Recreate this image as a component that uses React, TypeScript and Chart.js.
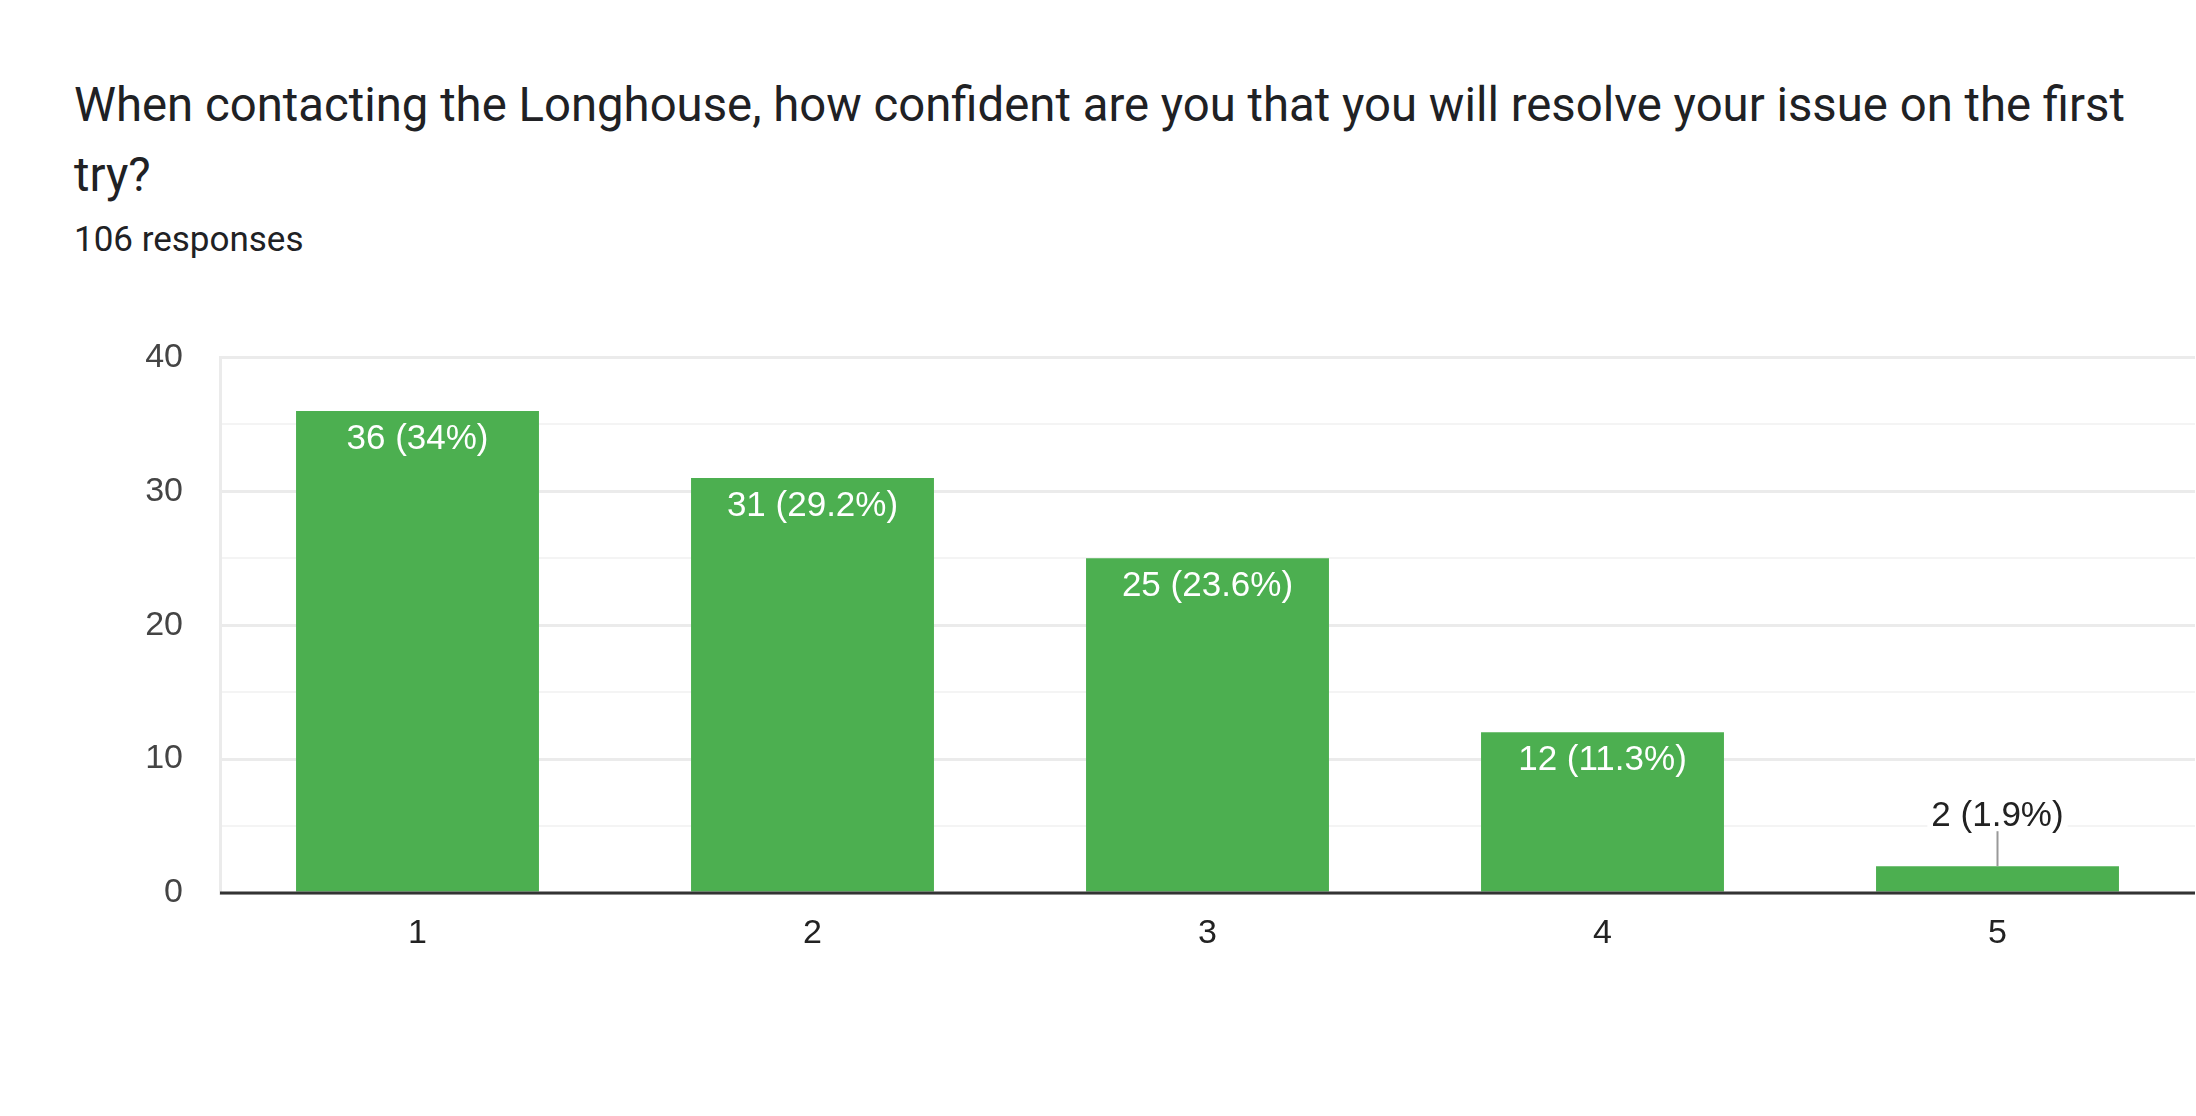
import React, { useEffect, useRef } from 'react';
import { Chart, registerables } from 'chart.js';

Chart.register(...registerables);

const categories = ['1', '2', '3', '4', '5'];
const responses = [36, 31, 25, 12, 2];
const percents = ['34', '29.2', '23.6', '11.3', '1.9'];
const majorTicks = [0, 10, 20, 30, 40];
const titleLines = [
  'When contacting the Longhouse, how confident are you that you will resolve your issue on the first',
  'try?',
];
const subtitle = '106 responses';

const LABEL_FONT = '"Liberation Sans", Arial, sans-serif';

const barLabelPlugin = {
  id: 'barLabels',
  afterDatasetsDraw(chart: any) {
    const { ctx, chartArea } = chart;
    const meta = chart.getDatasetMeta(0);
    const yScale = chart.scales.y;
    ctx.save();
    // baseline axis over bars
    const y0 = yScale.getPixelForValue(0);
    ctx.strokeStyle = '#333333';
    ctx.lineWidth = 3;
    ctx.beginPath();
    ctx.moveTo(chartArea.left, y0);
    ctx.lineTo(chartArea.right, y0);
    ctx.stroke();

    ctx.font = `35px ${LABEL_FONT}`;
    ctx.textAlign = 'center';
    ctx.textBaseline = 'alphabetic';
    meta.data.forEach((bar: any, i: number) => {
      const text = `${responses[i]} (${percents[i]}%)`;
      const h = bar.base - bar.y;
      if (h > 60) {
        ctx.fillStyle = '#ffffff';
        ctx.fillText(text, bar.x, bar.y + 38);
      } else {
        const w = ctx.measureText(text).width;
        const baseY = bar.y - 40;
        ctx.fillStyle = '#ffffff';
        ctx.fillRect(bar.x - w / 2 - 4, baseY - 28, w + 8, 34);
        ctx.strokeStyle = '#999999';
        ctx.lineWidth = 2;
        ctx.beginPath();
        ctx.moveTo(bar.x, bar.y);
        ctx.lineTo(bar.x, bar.y - 35);
        ctx.stroke();
        ctx.fillStyle = '#222222';
        ctx.fillText(text, bar.x, baseY);
      }
    });
    ctx.restore();
  },
};

export default function App() {
  const canvasRef = useRef<HTMLCanvasElement | null>(null);

  useEffect(() => {
    document.body.style.margin = '0';
    const canvas = canvasRef.current;
    if (!canvas) return;
    const chart = new Chart(canvas, {
      type: 'bar',
      data: {
        labels: categories,
        datasets: [
          {
            data: responses,
            backgroundColor: '#4caf50',
            borderWidth: 0,
            categoryPercentage: 1,
            barPercentage: 0.615,
          },
        ],
      },
      options: {
        animation: false,
        responsive: true,
        maintainAspectRatio: false,
        devicePixelRatio: 1,
        layout: { padding: { top: 55, right: 1, left: 0, bottom: 0 } },
        plugins: {
          legend: { display: false },
          tooltip: { enabled: false },
          title: { display: false },
        },
        scales: {
          x: {
            grid: { display: false, drawTicks: false },
            border: { display: false },
            ticks: {
              color: '#222222',
              font: { family: LABEL_FONT, size: 34 },
              padding: 20,
              maxRotation: 0,
            },
            afterFit(scale: any) {
              scale.height = 107;
            },
          },
          y: {
            min: 0,
            max: 40,
            grid: {
              drawTicks: false,
              color: (c: any) => (majorTicks.includes(c.tick?.value) ? '#ebebeb' : '#f4f4f4'),
              lineWidth: (c: any) => (majorTicks.includes(c.tick?.value) ? 3 : 2),
            },
            border: { display: true, color: '#ebebeb', width: 3 },
            ticks: {
              stepSize: 5,
              color: '#444444',
              font: { family: LABEL_FONT, size: 34 },
              padding: 37,
              callback: (v: any) => (majorTicks.includes(Number(v)) ? String(v) : ''),
            },
            afterFit(scale: any) {
              scale.width = 220;
            },
          },
        },
      },
      plugins: [barLabelPlugin],
    });
    return () => chart.destroy();
  }, []);

  return (
    <div style={{ position: 'relative', width: 2196, height: 1116, background: '#ffffff', overflow: 'hidden' }}>
      <div
        style={{
          position: 'absolute',
          left: 74,
          top: 70,
          fontFamily: 'Roboto, sans-serif',
          fontSize: 47.3,
          lineHeight: '70px',
          color: '#202124',
          whiteSpace: 'nowrap',
        }}
      >
        {titleLines[0]}
        <br />
        {titleLines[1]}
      </div>
      <div
        style={{
          position: 'absolute',
          left: 74,
          top: 220,
          fontFamily: 'Roboto, sans-serif',
          fontSize: 35,
          lineHeight: '40px',
          color: '#202124',
          whiteSpace: 'nowrap',
        }}
      >
        {subtitle}
      </div>
      <div style={{ position: 'absolute', left: 0, top: 300, width: 2196, height: 700 }}>
        <canvas ref={canvasRef} />
      </div>
    </div>
  );
}
